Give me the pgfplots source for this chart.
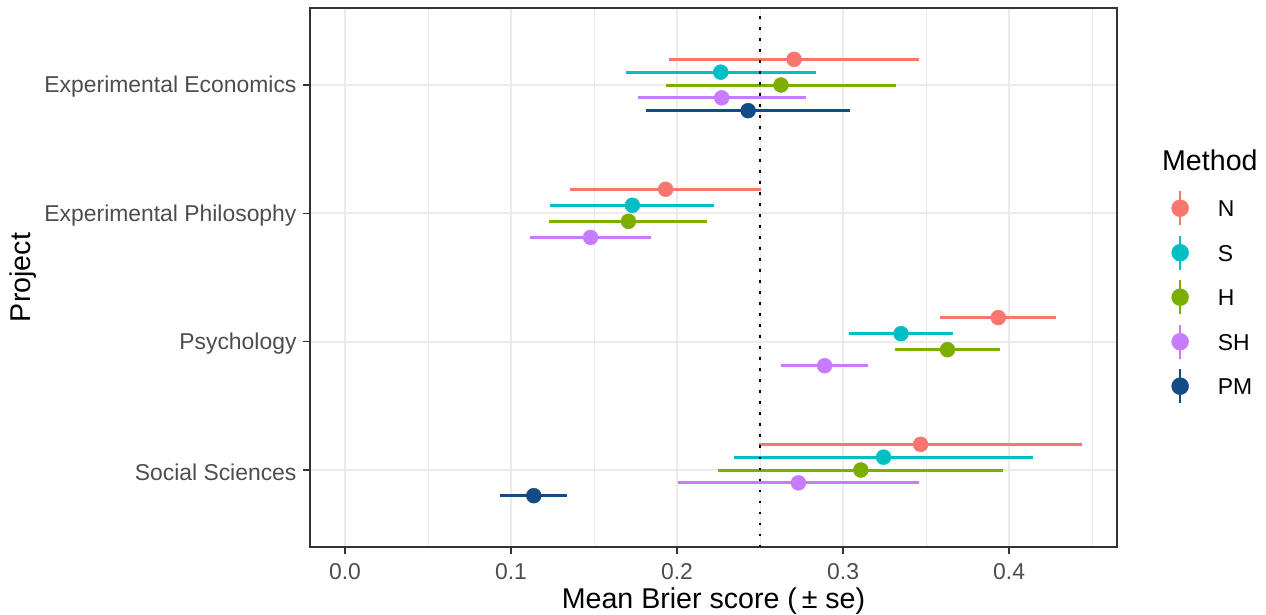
\documentclass[border=0pt]{standalone}
\usepackage{fontspec}
\setmainfont{Liberation Sans}
\usepackage{pgfplots}
\pgfplotsset{compat=1.18}
\definecolor{cN}{HTML}{F8766D}
\definecolor{cS}{HTML}{00BFC4}
\definecolor{cH}{HTML}{7CAE00}
\definecolor{cSH}{HTML}{C77CFF}
\definecolor{cPM}{HTML}{134B87}
\definecolor{gridc}{HTML}{EBEBEB}
\definecolor{g20}{HTML}{333333}
\definecolor{g30}{HTML}{4D4D4D}
% y: 1 Social Sciences, 2 Psychology, 3 Experimental Philosophy, 4 Experimental Economics
\pgfplotstableread{
y m se
4.2 0.2705 0.0755
3.1875 0.1931 0.0574
2.1875 0.3935 0.0349
1.2 0.3467 0.0974
}\tN
\pgfplotstableread{
y m se
4.1 0.2263 0.0573
3.0625 0.1731 0.0494
2.0625 0.3349 0.0311
1.1 0.3244 0.0899
}\tS
\pgfplotstableread{
y m se
4.0 0.2626 0.0692
2.9375 0.1707 0.0476
1.9375 0.3629 0.0316
1.0 0.3107 0.0858
}\tH
\pgfplotstableread{
y m se
3.9 0.2269 0.0506
2.8125 0.1479 0.0363
1.8125 0.2889 0.0264
0.9 0.2731 0.0726
}\tSH
\pgfplotstableread{
y m se
3.8 0.2428 0.0615
0.8 0.1137 0.0201
}\tPM
\pgfplotsset{
  pr/.style={only marks, mark=*, mark size=7.5bp, color=#1, mark options={fill=#1, draw=none},
    error bars/x dir=both, error bars/x explicit, error bars/error mark=none,
    error bars/error bar style={line width=3bp, color=#1}},
}
\newcommand{\keyimg}[1]{\addlegendimage{legend image code/.code={\draw[line width=2.5bp,#1] (0bp,-15.7bp) -- (0bp,18.3bp); \fill[#1] (0bp,1.3bp) circle (8.5bp);}}}
\begin{document}
\begin{tikzpicture}
\begin{axis}[
  scale only axis, width=807bp, height=539bp,
  xmin=-0.0211, xmax=0.465, ymin=0.4, ymax=4.6,
  xtick={0,0.1,0.2,0.3,0.4}, xticklabels={0.0,0.1,0.2,0.3,0.4},
  minor xtick={0.05,0.15,0.25,0.35,0.45},
  ytick={1,2,3,4},
  yticklabels={Social Sciences,Psychology,Experimental Philosophy,Experimental Economics},
  xtick pos=bottom, ytick pos=left,
  grid=both,
  major grid style={color=gridc, line width=2bp},
  minor grid style={color=gridc, line width=1bp},
  minor tick length=0pt, major tick length=7bp, tick align=outside,
  tick style={g20, line width=1.5bp},
  axis line style={g20, line width=1.5bp},
  ticklabel style={font=\fontsize{22.9bp}{26bp}\selectfont, color=g30},
  xticklabel style={yshift=-6bp},
  yticklabel style={xshift=-3bp, yshift=-2bp},
  xlabel={Mean Brier score (\,± se)}, ylabel={Project},
  label style={font=\fontsize{28.6bp}{32bp}\selectfont, color=black},
  xlabel style={at={(rel axis cs:0.5,-0.1005)}, anchor=center},
  ylabel style={at={(rel axis cs:-0.355,0.5)}, anchor=center},
  clip=false,
  legend style={draw=none, fill=none, at={(rel axis cs:1.0635,0.6665)}, anchor=north west,
    font=\fontsize{22.9bp}{26bp}\selectfont, row sep=8bp,
    /tikz/every odd column/.append style={column sep=27bp}},
  legend cell align=left,
]
\addplot+[pr=cN, forget plot] table[x=m, y=y, x error=se] {\tN};
\addplot+[pr=cS, forget plot] table[x=m, y=y, x error=se] {\tS};
\addplot+[pr=cH, forget plot] table[x=m, y=y, x error=se] {\tH};
\addplot+[pr=cSH, forget plot] table[x=m, y=y, x error=se] {\tSH};
\addplot+[pr=cPM, forget plot] table[x=m, y=y, x error=se] {\tPM};
\addplot[black, line width=2.5bp, dash pattern=on 2.5bp off 8.5bp, forget plot] coordinates {(0.25,0.4) (0.25,4.6)};
\keyimg{cN}\addlegendentry{N}
\keyimg{cS}\addlegendentry{S}
\keyimg{cH}\addlegendentry{H}
\keyimg{cSH}\addlegendentry{SH}
\keyimg{cPM}\addlegendentry{PM}
\node[anchor=west, font=\fontsize{28.6bp}{32bp}\selectfont] at (rel axis cs:1.0516,0.718) {Method};
\end{axis}
\pgfresetboundingbox
\path (current axis.south west) ++(-310bp,-68bp) rectangle ++(1266bp,615bp);
\end{tikzpicture}
\end{document}
